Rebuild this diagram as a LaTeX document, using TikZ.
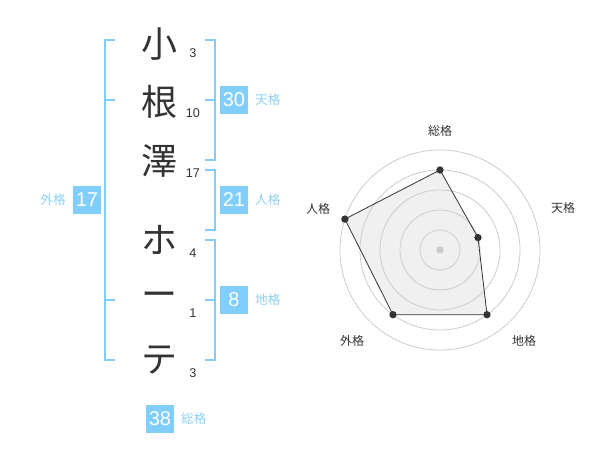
\documentclass[tikz,border=0pt]{standalone}
\usepackage{fontspec}
\setmainfont{Noto Sans CJK JP}
\newfontfamily\numfont{Liberation Sans}
\usetikzlibrary{positioning}

\definecolor{kakublue}{RGB}{128,206,252}
\definecolor{kakutext}{RGB}{140,208,246}
\definecolor{inkgray}{RGB}{51,51,51}
\definecolor{ringgray}{RGB}{204,204,204}
\definecolor{areagray}{RGB}{240,240,240}

\tikzset{
  kanji/.style={inner sep=0pt, text=inkgray, font=\fontsize{27pt}{27pt}\selectfont},
  strokes/.style={inner sep=0pt, text=inkgray, font=\numfont\fontsize{9.5pt}{9.5pt}\selectfont},
  brk/.style={draw=kakublue, line width=1.5pt},
  kakubox/.style={fill=kakublue, text=white, minimum size=21pt, inner sep=0pt, font=\numfont\fontsize{15pt}{15pt}\selectfont},
  kakulbl/.style={inner sep=0pt, text=kakutext, font=\fontsize{9.5pt}{9.5pt}\selectfont},
  ring/.style={draw=ringgray, line width=0.6pt},
  radarlbl/.style={inner sep=0pt, text=inkgray, font=\fontsize{9pt}{9pt}\selectfont},
  dot/.style={circle, fill=inkgray, inner sep=0pt, minimum size=5.5pt}
}

\begin{document}
\begin{tikzpicture}[x=0.75pt,y=0.75pt,yscale=-1,xscale=1]
\path[use as bounding box] (0,0) rectangle (600,470);

% Name characters
\node[kanji] (c1) at (159,44) {小};
\node[kanji] (c2) at (159,102) {根};
\node[kanji] (c3) at (159,161) {澤};
\node[kanji] (c4) at (159,240) {ホ};
\node[kanji] (c5) at (159,300) {ー};
\node[kanji] (c6) at (159,360) {テ};

% Stroke counts
\node[strokes] (s1) at (193,53) {3};
\node[strokes] (s2) at (193,113) {10};
\node[strokes] (s3) at (193,173) {17};
\node[strokes] (s4) at (193,253) {4};
\node[strokes] (s5) at (193,313) {1};
\node[strokes] (s6) at (193,373) {3};

% Left bracket
\draw[brk] (115,40) -- (105,40) -- (105,360) -- (115,360);
\draw[brk] (105,100) -- (115,100);
\draw[brk] (105,300) -- (115,300);

% Right brackets
\draw[brk] (205,40) -- (215,40) -- (215,160) -- (205,160);
\draw[brk] (205,100) -- (215,100);
\draw[brk] (205,170) -- (215,170) -- (215,230) -- (205,230);
\draw[brk] (205,240) -- (215,240) -- (215,360) -- (205,360);
\draw[brk] (205,300) -- (215,300);

% Scores
\node[kakubox] (ten) at (234,100) {30};
\node[kakulbl, right=5pt of ten] (tenl) {天格};
\node[kakubox] (jin) at (234,200) {21};
\node[kakulbl, right=5pt of jin] (jinl) {人格};
\node[kakubox] (chi) at (234,300) {8};
\node[kakulbl, right=5pt of chi] (chil) {地格};
\node[kakubox] (gai) at (87,200) {17};
\node[kakulbl, left=5pt of gai] (gail) {外格};
\node[kakubox] (sou) at (160,419) {38};
\node[kakulbl, right=5pt of sou] (soul) {総格};

% Radar chart
\coordinate (o) at (440,250);
\coordinate (pSou) at (440,170);
\coordinate (pTen) at (478,237.6);
\coordinate (pChi) at (487,314.7);
\coordinate (pGai) at (393,314.7);
\coordinate (pJin) at (344.9,219.1);

\fill[areagray] (pSou) -- (pTen) -- (pChi) -- (pGai) -- (pJin) -- cycle;
\foreach \r in {20,40,...,100}
  \draw[ring] (o) circle [radius={\r*0.75pt}];
\fill[ringgray] (o) circle [radius=2.8pt];
\draw[draw=inkgray, line width=0.6pt]
  (pSou) -- (pTen) -- (pChi) -- (pGai) -- (pJin) -- cycle;
\foreach \p in {pSou,pTen,pChi,pGai,pJin}
  \node[dot] at (\p) {};

\node[radarlbl] (rSou) at (440,131) {総格};
\node[radarlbl] (rTen) at (563,208) {天格};
\node[radarlbl] (rChi) at (524,341) {地格};
\node[radarlbl] (rGai) at (352,341) {外格};
\node[radarlbl] (rJin) at (318,209) {人格};

\end{tikzpicture}
\end{document}
